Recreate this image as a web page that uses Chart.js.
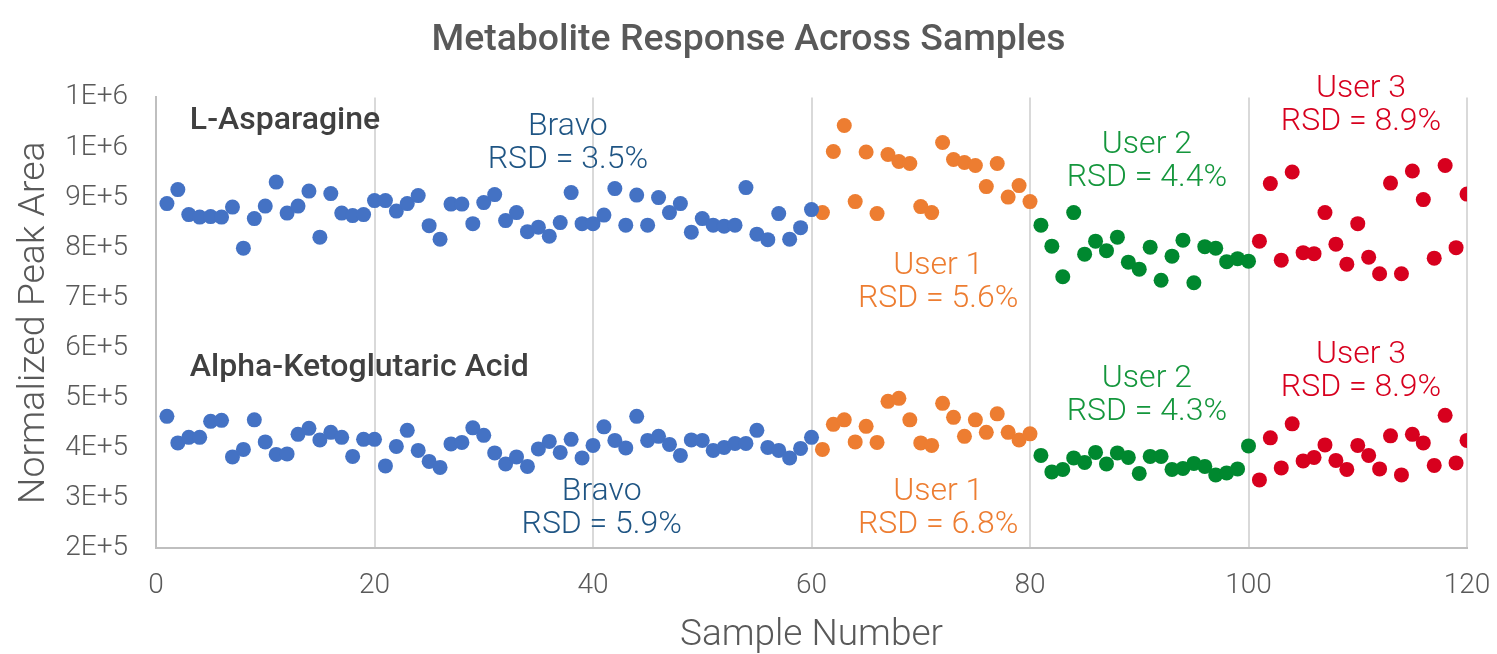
<!DOCTYPE html>
<html>
<head>
<meta charset="utf-8">
<script src="https://cdn.jsdelivr.net/npm/chart.js@4.4.1/dist/chart.umd.min.js"></script>
<style>
  html, body { margin: 0; padding: 0; background: #fff; }
  #wrap { width: 1497px; height: 654px; }
</style>
</head>
<body>
<div id="wrap"><canvas id="myChart"></canvas></div>
<script>
// sample numbers per group
var bravoX = [], user1X = [], user2X = [], user3X = [];
for (var i = 1; i <= 60; i++) bravoX.push(i);
for (var i = 61; i <= 80; i++) user1X.push(i);
for (var i = 81; i <= 100; i++) user2X.push(i);
for (var i = 101; i <= 120; i++) user3X.push(i);

// L-Asparagine, normalized peak area
var asnBravo = [888000, 916000, 866000, 861000, 862000, 861000, 881000, 799000, 858000, 883000,
  931000, 869000, 883000, 913000, 821000, 908000, 869000, 864000, 866000, 894000,
  894000, 873000, 888000, 904000, 844000, 817000, 887000, 887000, 848000, 890000,
  906000, 854000, 870000, 832000, 841000, 823000, 850000, 910000, 848000, 848000,
  865000, 918000, 845000, 905000, 845000, 900000, 870000, 888000, 831000, 858000,
  845000, 843000, 845000, 920000, 827000, 816000, 868000, 817000, 840000, 876000];
var asnUser1 = [870000, 992000, 1044000, 892000, 991000, 868000, 986000, 972000, 968000, 882000,
  870000, 1010000, 976000, 970000, 964000, 922000, 968000, 901000, 924000, 892000];
var asnUser2 = [845000, 803000, 742000, 870000, 787000, 813000, 794000, 821000, 771000, 757000,
  801000, 735000, 783000, 815000, 730000, 802000, 799000, 772000, 778000, 773000];
var asnUser3 = [813000, 928000, 775000, 951000, 790000, 788000, 870000, 807000, 767000, 848000,
  781000, 748000, 929000, 748000, 953000, 896000, 779000, 964000, 800000, 907000];

// Alpha-Ketoglutaric Acid, normalized peak area
var akgBravo = [463000, 410000, 421000, 421000, 453000, 455000, 382000, 397000, 456000, 412000,
  387000, 388000, 427000, 439000, 416000, 431000, 421000, 383000, 417000, 417000,
  364000, 403000, 435000, 395000, 373000, 361000, 408000, 411000, 440000, 425000,
  390000, 368000, 382000, 363000, 398000, 413000, 391000, 417000, 380000, 405000,
  442000, 415000, 400000, 463000, 415000, 423000, 407000, 385000, 416000, 415000,
  395000, 401000, 409000, 409000, 435000, 401000, 395000, 380000, 399000, 421000];
var akgUser1 = [397000, 447000, 456000, 412000, 443000, 411000, 493000, 499000, 456000, 410000,
  405000, 489000, 461000, 423000, 456000, 431000, 468000, 431000, 416000, 428000];
var akgUser2 = [385000, 352000, 357000, 380000, 371000, 391000, 368000, 390000, 381000, 349000,
  383000, 383000, 357000, 359000, 369000, 363000, 346000, 350000, 358000, 404000];
var akgUser3 = [336000, 420000, 360000, 448000, 374000, 381000, 406000, 375000, 357000, 405000,
  385000, 358000, 424000, 346000, 427000, 410000, 365000, 465000, 370000, 415000];

var groupColors = ['#4472C4', '#ED7D31', '#00882F', '#D7001E'];
var labelColors = ['#1F5584', '#ED7D31', '#14963C', '#D7001E'];

// text labels placed in data coordinates
var notes = [
  {x: 3.1, y: 1054000, lines: ['L-Asparagine'], color: '#404040', bold: true, align: 'left'},
  {x: 3.1, y: 559000, lines: ['Alpha-Ketoglutaric Acid'], color: '#404040', bold: true, align: 'left'},
  {x: 37.7, y: 1042000, lines: ['Bravo', 'RSD = 3.5%'], color: labelColors[0]},
  {x: 71.6, y: 763000, lines: ['User 1', 'RSD = 5.6%'], color: labelColors[1]},
  {x: 90.7, y: 1006000, lines: ['User 2', 'RSD = 4.4%'], color: labelColors[2]},
  {x: 110.3, y: 1117000, lines: ['User 3', 'RSD = 8.9%'], color: labelColors[3]},
  {x: 40.8, y: 312000, lines: ['Bravo', 'RSD = 5.9%'], color: labelColors[0]},
  {x: 71.6, y: 312000, lines: ['User 1', 'RSD = 6.8%'], color: labelColors[1]},
  {x: 90.7, y: 538000, lines: ['User 2', 'RSD = 4.3%'], color: labelColors[2]},
  {x: 110.3, y: 585000, lines: ['User 3', 'RSD = 8.9%'], color: labelColors[3]}
];

function pts(xs, ys) {
  return xs.map(function(x, i) { return {x: x, y: ys[i]}; });
}

function ds(xs, ys, color) {
  return {
    data: pts(xs, ys),
    backgroundColor: color,
    borderWidth: 0,
    pointRadius: 7.5,
    pointHoverRadius: 7.5
  };
}

var notesPlugin = {
  id: 'notes',
  afterDatasetsDraw: function(chart) {
    var c = chart.ctx;
    var xs = chart.scales.x, ys = chart.scales.y;
    c.save();
    notes.forEach(function(n) {
      var px = xs.getPixelForValue(n.x);
      var py = ys.getPixelForValue(n.y);
      c.fillStyle = n.color;
      c.textAlign = n.align || 'center';
      c.textBaseline = 'middle';
      c.font = n.bold ? '500 32px Roboto' : '300 32px Roboto';
      n.lines.forEach(function(t, k) {
        c.fillText(t, px, py + k * 33);
      });
    });
    c.restore();
  }
};

var ctx = document.getElementById('myChart');
var myChart = new Chart(ctx, {
  type: 'scatter',
  data: {
    datasets: [
      ds(bravoX, asnBravo, groupColors[0]),
      ds(user1X, asnUser1, groupColors[1]),
      ds(user2X, asnUser2, groupColors[2]),
      ds(user3X, asnUser3, groupColors[3]),
      ds(bravoX, akgBravo, groupColors[0]),
      ds(user1X, akgUser1, groupColors[1]),
      ds(user2X, akgUser2, groupColors[2]),
      ds(user3X, akgUser3, groupColors[3])
    ]
  },
  options: {
    responsive: true,
    maintainAspectRatio: false,
    animation: false,
    layout: {padding: 0},
    plugins: {
      legend: {display: false},
      tooltip: {enabled: false},
      title: {
        display: true,
        text: 'Metabolite Response Across Samples',
        color: '#595959',
        font: {family: 'Roboto', size: 37.4, weight: '500', lineHeight: 1.2},
        padding: {top: 17.8, bottom: 34.8}
      }
    },
    scales: {
      x: {
        type: 'linear',
        min: 0,
        max: 120,
        ticks: {
          stepSize: 20,
          color: '#595959',
          padding: 21,
          maxRotation: 0,
          font: {family: 'Roboto', size: 28, weight: '300'}
        },
        grid: {color: '#D9D9D9', lineWidth: 2, drawTicks: false},
        border: {color: '#BFBFBF', width: 2},
        title: {
          display: true,
          text: 'Sample Number',
          color: '#595959',
          font: {family: 'Roboto', size: 37, weight: '300', lineHeight: 1},
          padding: {top: 4, bottom: 0}
        },
        afterFit: function(scale) {
          scale.height = 106;
          scale.paddingLeft = 0;
          scale.paddingRight = 30;
        }
      },
      y: {
        min: 200000,
        max: 1100000,
        ticks: {
          stepSize: 100000,
          color: '#595959',
          padding: 28,
          font: {family: 'Roboto', size: 28, weight: '300'},
          callback: function(v) { return Number(v).toExponential(0).toUpperCase(); }
        },
        grid: {display: false, drawTicks: false},
        border: {color: '#BFBFBF', width: 2},
        title: {
          display: true,
          text: 'Normalized Peak Area',
          color: '#595959',
          font: {family: 'Roboto', size: 37.5, weight: '300', lineHeight: 1},
          padding: {top: 16, bottom: 0}
        },
        afterFit: function(scale) {
          scale.width = 156;
          scale.paddingTop = 0;
          scale.paddingBottom = 0;
        }
      }
    }
  },
  plugins: [notesPlugin]
});
</script>
</body>
</html>
